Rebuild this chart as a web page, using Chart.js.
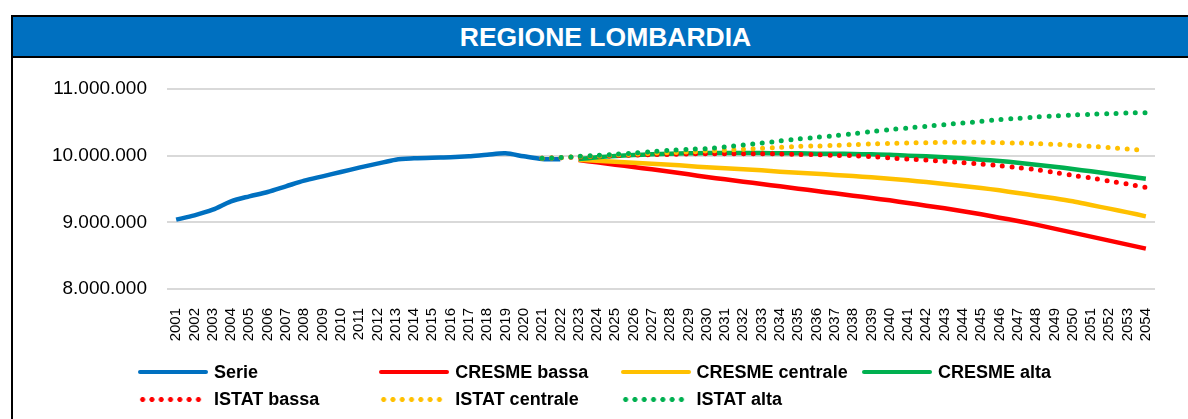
<!DOCTYPE html>
<html>
<head>
<meta charset="utf-8">
<script src="https://cdn.jsdelivr.net/npm/chart.js@4/dist/chart.umd.min.js"></script>
<style>
  html, body { margin: 0; padding: 0; overflow: hidden; background: #fff; }
  #wrap { position: relative; width: 1188px; height: 419px; overflow: hidden; font-family: "Liberation Sans", Arial, sans-serif; }
  .frame { position: absolute; left: 11px; top: 15px; width: 1220px; height: 430px;
           border-left: 2px solid #000; border-top: 2px solid #000; }
  .title { position: absolute; left: 13px; top: 17px; width: 1185px; height: 39px;
           background: #0070C0; border-bottom: 2px solid #000; color: #fff;
           font: bold 26.5px "Liberation Sans", Arial, sans-serif; text-align: center; line-height: 40px; }
  canvas { position: absolute; left: 0; top: 0; }
  .leg { position: absolute; height: 22px; display: flex; align-items: center;
         font: bold 18px "Liberation Sans", Arial, sans-serif; color: #000; white-space: nowrap; }
  .leg .sw { width: 70px; height: 4px; border-radius: 2px; margin-right: 6px; }
  .leg .dots { width: 64px; height: 5px; margin-right: 12px; background-size: 9.3px 5px; background-repeat: repeat-x; }
</style>
</head>
<body>
<div id="wrap">
  <div class="frame"></div>
  <div class="title">REGIONE LOMBARDIA</div>
  <canvas id="c" width="1188" height="419"></canvas>
  <div id="legend"></div>
</div>
<script>
// anni sull'asse x
const years = [];
for (let y = 2001; y <= 2054; y++) years.push(String(y));

const yTicks = [8000000, 9000000, 10000000, 11000000];

// serie storica 2001-2022
const serie = [9040000, 9105000, 9190000, 9315000, 9390000, 9455000, 9540000, 9625000, 9690000, 9755000,
  9820000, 9880000, 9940000, 9960000, 9970000, 9975000, 9990000, 10015000, 10035000, 9990000, 9950000, 9945000];

// CRESME 2023-2054
const cresmeBassa = [9935000, 9900000, 9865000, 9830000, 9795000, 9760000, 9720000, 9680000, 9645000, 9610000,
  9575000, 9540000, 9505000, 9470000, 9435000, 9400000, 9365000, 9330000, 9290000, 9250000,
  9210000, 9165000, 9120000, 9070000, 9020000, 8965000, 8905000, 8845000, 8785000, 8725000, 8665000, 8605000];
const cresmeCentrale = [9940000, 9925000, 9910000, 9895000, 9880000, 9865000, 9845000, 9825000, 9810000, 9795000,
  9780000, 9760000, 9745000, 9730000, 9710000, 9695000, 9675000, 9655000, 9630000, 9605000,
  9575000, 9545000, 9515000, 9480000, 9440000, 9400000, 9360000, 9315000, 9260000, 9205000, 9150000, 9090000];
const cresmeAlta = [9950000, 9975000, 9995000, 10010000, 10020000, 10030000, 10035000, 10040000, 10040000, 10040000,
  10040000, 10035000, 10035000, 10030000, 10030000, 10025000, 10020000, 10015000, 10000000, 9990000,
  9975000, 9960000, 9940000, 9920000, 9895000, 9865000, 9835000, 9800000, 9765000, 9730000, 9690000, 9655000];

// ISTAT 2021-2054
const istatBassa = [9960000, 9970000, 9980000, 9990000, 10000000, 10010000, 10015000, 10020000, 10025000, 10030000,
  10030000, 10030000, 10030000, 10025000, 10020000, 10015000, 10005000, 10000000, 9985000, 9965000,
  9950000, 9935000, 9915000, 9895000, 9875000, 9850000, 9820000, 9790000, 9750000, 9705000, 9665000, 9620000, 9575000, 9525000];
const istatCentrale = [9960000, 9970000, 9985000, 9995000, 10010000, 10020000, 10035000, 10045000, 10055000, 10070000,
  10080000, 10095000, 10110000, 10125000, 10140000, 10145000, 10155000, 10165000, 10175000, 10185000,
  10190000, 10195000, 10200000, 10200000, 10200000, 10195000, 10190000, 10180000, 10170000, 10155000, 10140000, 10120000, 10100000, 10075000];
const istatAlta = [9960000, 9970000, 9990000, 10005000, 10020000, 10040000, 10060000, 10080000, 10095000, 10105000,
  10130000, 10160000, 10190000, 10220000, 10250000, 10275000, 10300000, 10330000, 10360000, 10390000,
  10415000, 10440000, 10465000, 10490000, 10515000, 10540000, 10560000, 10580000, 10595000, 10610000, 10620000, 10630000, 10640000, 10645000];

const BLU = "#0070C0", ROSSO = "#FF0000", GIALLO = "#FFC000", VERDE = "#00B050";

// mette i valori sull'anno giusto, null altrove
function pad(startYear, values){
  const out = years.map(() => null);
  values.forEach((v, i) => { out[startYear - 2001 + i] = v; });
  return out;
}

const fmt = v => String(v).replace(/\B(?=(\d{3})+(?!\d))/g, ".");

function solid(label, color, data, order){
  return { label, data, borderColor: color, backgroundColor: color, borderWidth: 4.5,
    pointRadius: 0, tension: 0.3, fill: false, order, dotted: false };
}
function dotted(label, color, data, order){
  return { label, data, borderColor: color, backgroundColor: color, borderWidth: 5,
    borderDash: [0, 9.6], borderCapStyle: "round", pointRadius: 0, tension: 0.3, fill: false, order, dotted: true };
}

const datasets = [
  solid("Serie", BLU, pad(2001, serie), 7),
  solid("CRESME bassa", ROSSO, pad(2023, cresmeBassa), 6),
  solid("CRESME centrale", GIALLO, pad(2023, cresmeCentrale), 5),
  solid("CRESME alta", VERDE, pad(2023, cresmeAlta), 4),
  dotted("ISTAT bassa", ROSSO, pad(2021, istatBassa), 3),
  dotted("ISTAT centrale", GIALLO, pad(2021, istatCentrale), 2),
  dotted("ISTAT alta", VERDE, pad(2021, istatAlta), 1)
];

const chart = new Chart(document.getElementById("c"), {
  type: "line",
  data: { labels: years, datasets },
  options: {
    responsive: false,
    animation: false,
    layout: { padding: { top: 89, right: 33, left: 0, bottom: 0 } },
    plugins: { legend: { display: false }, tooltip: { enabled: false } },
    scales: {
      x: {
        offset: true,
        grid: { display: false },
        border: { display: false },
        ticks: { minRotation: 90, maxRotation: 90, autoSkip: false, padding: 11, color: "#000",
          font: { family: "Liberation Sans", size: 15 } },
        afterFit: s => { s.height = 130; }
      },
      y: {
        min: 8000000, max: 11000000,
        afterBuildTicks: s => { s.ticks = yTicks.map(v => ({ value: v })); },
        grid: { color: "#d9d9d9", lineWidth: 2, drawTicks: false },
        border: { display: false },
        ticks: { padding: 20, color: "#000", font: { family: "Liberation Sans", size: 19 }, callback: v => fmt(v) },
        afterFit: s => { s.width = 167; }
      }
    }
  }
});

// legenda html: 4 colonne, due righe
const legend = document.getElementById("legend");
chart.data.datasets.forEach((ds, i) => {
  const col = i < 4 ? i : i - 4;
  const row = i < 4 ? 0 : 1;
  const item = document.createElement("div");
  item.className = "leg";
  item.style.left = (138 + col * 241.3) + "px";
  item.style.top = (361 + row * 27) + "px";
  const sw = document.createElement("div");
  if (ds.dotted) {
    sw.className = "dots";
    sw.style.backgroundImage = "radial-gradient(circle at 50% 50%, " + ds.borderColor + " 2.2px, transparent 2.8px)";
  } else {
    sw.className = "sw";
    sw.style.background = ds.borderColor;
  }
  item.appendChild(sw);
  item.appendChild(document.createTextNode(ds.label));
  legend.appendChild(item);
});
</script>
</body>
</html>
